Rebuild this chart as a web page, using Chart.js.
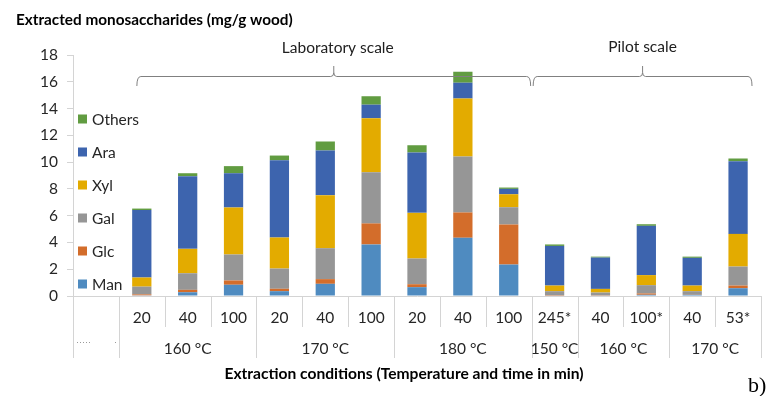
<!DOCTYPE html>
<html><head><meta charset="utf-8">
<script src="https://cdn.jsdelivr.net/npm/chart.js@4.4.0/dist/chart.umd.min.js"></script>
<style>html,body{margin:0;padding:0;background:#fff;overflow:hidden}#wrap{width:782px;height:396px;position:relative}</style>
</head><body><div id="wrap"><canvas id="c" width="782" height="396"></canvas></div>
<script>
// ---- data ----
const categories = ['', '20', '40', '100', '20', '40', '100', '20', '40', '100', '245*', '40', '100*', '40', '53*'];
const groupLabels = ['', '160 °C', '170 °C', '180 °C', '150 °C', '160 °C', '170 °C'];
const groupSpans = [1, 3, 3, 3, 1, 2, 2];
const scaleLabels = ['Laboratory scale', 'Pilot scale'];
const scaleSpans = [9, 5];
const seriesNames = ['Man', 'Glc', 'Gal', 'Xyl', 'Ara', 'Others'];
const man    = [null, 0.05, 0.28, 0.84, 0.36, 0.91, 3.85, 0.66, 4.35, 2.35, 0.03, 0.03, 0.09, 0.08, 0.58];
const glc    = [null, 0.07, 0.18, 0.32, 0.18, 0.35, 1.57, 0.22, 1.89, 2.99, 0.03, 0.02, 0.10, 0.01, 0.20];
const gal    = [null, 0.58, 1.24, 1.94, 1.51, 2.31, 3.83, 1.92, 4.17, 1.29, 0.30, 0.21, 0.62, 0.27, 1.42];
const xyl    = [null, 0.68, 1.82, 3.51, 2.32, 3.96, 4.03, 3.41, 4.34, 0.97, 0.42, 0.27, 0.75, 0.42, 2.44];
const ara    = [null, 5.04, 5.43, 2.56, 5.77, 3.34, 1.01, 4.51, 1.18, 0.40, 2.96, 2.34, 3.68, 2.07, 5.43];
const others = [null, 0.11, 0.22, 0.53, 0.35, 0.67, 0.63, 0.54, 0.82, 0.10, 0.11, 0.07, 0.12, 0.09, 0.20];
const yTitle = 'Extracted monosaccharides (mg/g wood)';
const xTitle = 'Extraction conditions (Temperature and time in min)';
const panelTag = 'b)';

const colors = ['#4f8bc0', '#d36d2b', '#969696', '#e3ab00', '#3d64ae', '#619c41'];
const FONT = 'Lato, "Open Sans", sans-serif';
const TXT = '#262626';
const LINE = '#d4d4d4';

const seriesData = [man, glc, gal, xyl, ara, others];
const datasets = seriesNames.map((n, i) => ({
  label: n, data: seriesData[i], backgroundColor: colors[i], borderWidth: 0,
  barPercentage: 0.42, categoryPercentage: 1.0
}));

const decor = {
  id: 'decor',
  afterDraw(chart) {
    const ctx = chart.ctx, xs = chart.scales.x, ys = chart.scales.y;
    const ca = chart.chartArea;
    const n = categories.length;
    const w = (ca.right - ca.left) / n;
    const b = i => ca.left + i * w;
    const y0 = ys.getPixelForValue(0);
    ctx.save();
    // title
    ctx.fillStyle = '#000';
    ctx.font = 'bold 15.3px ' + FONT;
    ctx.textAlign = 'left'; ctx.textBaseline = 'alphabetic';
    ctx.fillText(yTitle, 16, 25);
    // legend (reverse order)
    ctx.font = '15.5px ' + FONT;
    ctx.textBaseline = 'middle';
    for (let k = 0; k < seriesNames.length; k++) {
      const di = seriesNames.length - 1 - k;
      const yy = 119 + k * 33;
      ctx.fillStyle = colors[di];
      ctx.fillRect(78, yy - 4.5, 9, 9);
      ctx.fillStyle = TXT;
      ctx.fillText(chart.data.datasets[di].label, 92, yy + 0.5);
    }
    // table lines
    ctx.strokeStyle = LINE; ctx.lineWidth = 1;
    const groupBounds = new Set([0]);
    let acc = 0;
    groupSpans.forEach(s => { acc += s; groupBounds.add(acc); });
    for (let i = 0; i <= n; i++) {
      const x = Math.round(b(i)) + 0.5;
      ctx.beginPath();
      ctx.moveTo(x, y0);
      ctx.lineTo(x, groupBounds.has(i) ? 358 : 327);
      ctx.stroke();
    }
    // tick labels
    ctx.fillStyle = TXT; ctx.textAlign = 'center'; ctx.font = '15.5px ' + FONT;
    categories.forEach((c, i) => { if (c) ctx.fillText(c, xs.getPixelForValue(i), 318); });
    // group labels
    acc = 0;
    groupSpans.forEach((s, g) => {
      const cx = (b(acc) + b(acc + s)) / 2;
      if (groupLabels[g]) ctx.fillText(groupLabels[g], cx, 349);
      acc += s;
    });
    // faint dots in first cell
    ctx.fillStyle = '#9a9a9a';
    [77, 80, 83, 86, 89, 115].forEach(x => ctx.fillRect(x, 342, 1, 1));
    // x title
    ctx.fillStyle = '#000'; ctx.font = 'bold 15.6px ' + FONT;
    ctx.fillText(xTitle, 404, 374);
    // brackets
    ctx.strokeStyle = '#808080'; ctx.lineWidth = 1;
    const bracket = (L, R) => {
      const M = (L + R) / 2, yb = 76.5;
      ctx.beginPath();
      ctx.moveTo(L, 86);
      ctx.quadraticCurveTo(L, yb, L + 4, yb);
      ctx.lineTo(M - 3, yb);
      ctx.quadraticCurveTo(M, yb, M, yb - 4);
      ctx.lineTo(M, 66);
      ctx.moveTo(M, yb - 4);
      ctx.quadraticCurveTo(M, yb, M + 3, yb);
      ctx.lineTo(R - 4, yb);
      ctx.quadraticCurveTo(R, yb, R, 86);
      ctx.stroke();
      return M;
    };
    const s0 = 1, s1 = s0 + scaleSpans[0], s2 = s1 + scaleSpans[1];
    const m1 = bracket(b(s0) + 18, b(s1) - 1);
    const m2 = bracket(b(s1) + 1.5, b(s2) - 9);
    ctx.fillStyle = '#202020'; ctx.font = '15.5px ' + FONT; ctx.textAlign = 'center';
    ctx.fillText(scaleLabels[0], m1 + 4, 48);
    ctx.fillText(scaleLabels[1], m2, 47);
    // panel tag
    ctx.font = '22px "Liberation Serif", "DejaVu Serif", serif';
    ctx.textAlign = 'left'; ctx.textBaseline = 'alphabetic';
    ctx.fillStyle = '#000';
    ctx.fillText(panelTag, 748, 392);
    ctx.restore();
  }
};

new Chart(document.getElementById('c'), {
  type: 'bar',
  data: { labels: categories, datasets },
  options: {
    responsive: false, animation: false, devicePixelRatio: 1,
    layout: { padding: { left: 0, right: 21, top: 55, bottom: 100 } },
    plugins: { legend: { display: false }, tooltip: { enabled: false }, title: { display: false } },
    scales: {
      x: {
        stacked: true,
        ticks: { display: false },
        grid: { display: false },
        border: { display: true, color: LINE },
        afterFit: s => { s.height = 0; }
      },
      y: {
        stacked: true, min: 0, max: 18,
        ticks: { stepSize: 2, padding: 9, color: TXT, font: { family: FONT, size: 15.5 } },
        grid: { display: true, drawOnChartArea: false, drawTicks: true, tickLength: 6, color: LINE },
        border: { display: true, color: LINE },
        afterFit: s => { s.width = 73; }
      }
    }
  },
  plugins: [decor]
});
</script></body></html>
